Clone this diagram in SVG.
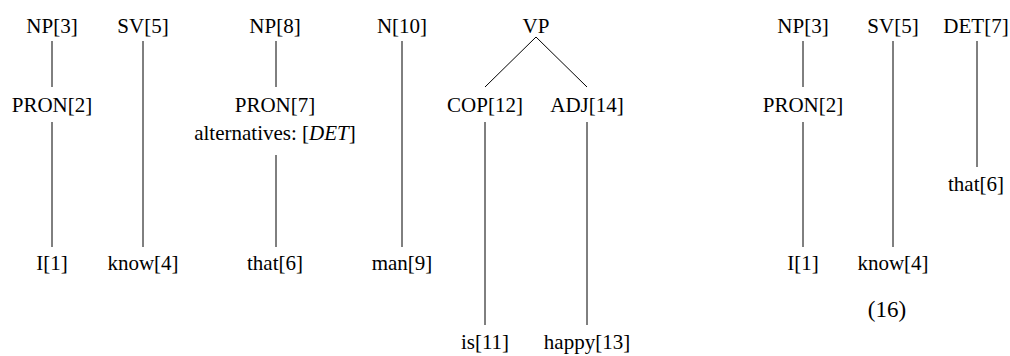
<svg xmlns="http://www.w3.org/2000/svg" width="1010" height="356" viewBox="0 0 1010 356">
  <style>
    text { font-family: "Liberation Serif", "Times New Roman", serif; font-size: 21px; fill: #000; text-anchor: middle; }
    .edge { stroke: #000; stroke-width: 1; fill: none; }
    .num { font-size: 23px; }
  </style>
  <rect width="1010" height="356" fill="#fff"/>

  <!-- tree edges -->
  <g id="edges">
    <line class="edge" x1="52" y1="41" x2="52" y2="87"/>
    <line class="edge" x1="52" y1="122" x2="52" y2="247"/>
    <line class="edge" x1="143" y1="41" x2="143" y2="247"/>
    <line class="edge" x1="276" y1="41" x2="276" y2="87"/>
    <line class="edge" x1="276" y1="155" x2="276" y2="247"/>
    <line class="edge" x1="402" y1="41" x2="402" y2="247"/>
    <line class="edge" x1="536" y1="37" x2="485" y2="87"/>
    <line class="edge" x1="536" y1="37" x2="587" y2="87"/>
    <line class="edge" x1="485" y1="122" x2="485" y2="325"/>
    <line class="edge" x1="587" y1="122" x2="587" y2="325"/>
    <line class="edge" x1="803" y1="41" x2="803" y2="87"/>
    <line class="edge" x1="803" y1="122" x2="803" y2="247"/>
    <line class="edge" x1="893" y1="41" x2="893" y2="247"/>
    <line class="edge" x1="977" y1="41" x2="977" y2="167"/>
  </g>

  <!-- first analysis -->
  <g id="np3"><text x="52" y="33">NP[3]</text></g>
  <g id="pron2"><text x="52" y="112">PRON[2]</text></g>
  <g id="i1"><text x="52" y="270">I[1]</text></g>
  <g id="sv5"><text x="143" y="33">SV[5]</text></g>
  <g id="know4"><text x="143" y="270">know[4]</text></g>
  <g id="np8"><text x="275" y="33">NP[8]</text></g>
  <g id="pron7">
    <text x="275" y="112">PRON[7]</text>
    <text x="275" y="140">alternatives:  [<tspan font-style="italic">DET</tspan>]</text>
  </g>
  <g id="that6"><text x="275" y="270">that[6]</text></g>
  <g id="n10"><text x="402" y="33">N[10]</text></g>
  <g id="man9"><text x="402" y="270">man[9]</text></g>
  <g id="vp"><text x="536" y="33">VP</text></g>
  <g id="cop12"><text x="485" y="112">COP[12]</text></g>
  <g id="is11"><text x="485" y="349">is[11]</text></g>
  <g id="adj14"><text x="587" y="112">ADJ[14]</text></g>
  <g id="happy13"><text x="587" y="349">happy[13]</text></g>

  <!-- second analysis -->
  <g id="np3b"><text x="803" y="33">NP[3]</text></g>
  <g id="pron2b"><text x="803" y="112">PRON[2]</text></g>
  <g id="i1b"><text x="803" y="270">I[1]</text></g>
  <g id="sv5b"><text x="893" y="33">SV[5]</text></g>
  <g id="know4b"><text x="893" y="270">know[4]</text></g>
  <g id="det7"><text x="976" y="33">DET[7]</text></g>
  <g id="that6b"><text x="976" y="191">that[6]</text></g>

  <text class="num" x="887" y="317">(16)</text>
</svg>
